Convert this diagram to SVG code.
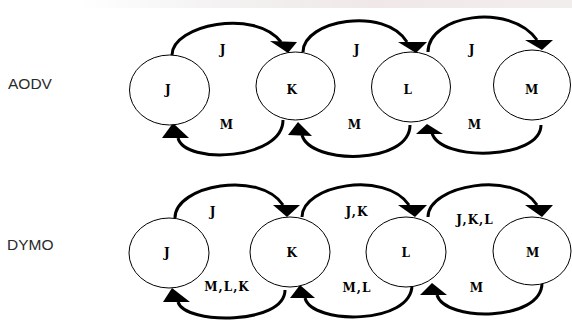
<svg xmlns="http://www.w3.org/2000/svg" width="572" height="321" viewBox="0 0 572 321">
<defs>
<linearGradient id="wm" x1="0" y1="0" x2="1" y2="0">
<stop offset="0" stop-color="#ffffff"/>
<stop offset="0.3" stop-color="#f3f1f1"/>
<stop offset="0.6" stop-color="#f0e8e8"/>
<stop offset="1" stop-color="#f2eded"/>
</linearGradient>
</defs>
<style>
.node ellipse{fill:#fff;stroke:#000;stroke-width:1}
.nl{font-family:"DejaVu Serif",serif;font-weight:bold;font-size:12px;text-anchor:middle;fill:#000;letter-spacing:0.5px}
.el{font-family:"DejaVu Serif",serif;font-weight:bold;font-size:12px;text-anchor:middle;fill:#000;letter-spacing:1px}
.row{font-family:"Liberation Sans",Arial,sans-serif;font-size:15.5px;fill:#2a2a2a}
.arc{fill:none;stroke:#000;stroke-width:3}
.head{fill:#000}
</style>
<rect x="0" y="0" width="572" height="321" fill="#fff"/>
<rect x="80" y="0" width="492" height="8" fill="url(#wm)"/>
<text class="row" x="8" y="89">AODV</text>
<text class="row" x="7" y="250">DYMO</text>
<g id="connectors">
<path class="arc" d="M172,55 C172,25 255,8 281,42"/>
<polygon class="head" points="270,41 297,42 288,53"/>
<path class="arc" d="M303,52 C303,20 385,6 407,42"/>
<polygon class="head" points="398,42 427,42 416,53"/>
<path class="arc" d="M428,52 C428,15 510,2 537,40"/>
<polygon class="head" points="525,40 553,40 542,50"/>
<path class="arc" d="M283,120 C283,160 185,165 178,138"/>
<polygon class="head" points="173,123 162,138 189,138"/>
<path class="arc" d="M410,125 C410,165 310,165 302,135"/>
<polygon class="head" points="298,122 288,135 312,136"/>
<path class="arc" d="M541,125 C541,160 440,162 432,133"/>
<polygon class="head" points="427,124 416,134 443,134"/>
<path class="arc" d="M175,218 C175,185 260,170 283,205"/>
<polygon class="head" points="273,205 300,205 287,217"/>
<path class="arc" d="M302,217 C302,185 385,170 409,205"/>
<polygon class="head" points="398,205 427,205 415,217"/>
<path class="arc" d="M428,217 C428,185 515,170 537,205"/>
<polygon class="head" points="525,205 553,205 542,217"/>
<path class="arc" d="M285,290 C285,325 185,325 178,302"/>
<polygon class="head" points="172,288 163,302 190,302"/>
<path class="arc" d="M412,285 C412,325 312,325 305,298"/>
<polygon class="head" points="300,285 290,298 315,298"/>
<path class="arc" d="M542,283 C542,322 445,322 437,295"/>
<polygon class="head" points="432,283 420,295 447,295"/>
<text class="el" x="223" y="54">J</text>
<text class="el" x="357" y="54">J</text>
<text class="el" x="472" y="54">J</text>
<text class="el" x="227" y="129">M</text>
<text class="el" x="355" y="129">M</text>
<text class="el" x="475" y="129">M</text>
<text class="el" x="213" y="216">J</text>
<text class="el" x="357" y="216">J,K</text>
<text class="el" x="475" y="224">J,K,L</text>
<text class="el" x="227" y="291">M,L,K</text>
<text class="el" x="357" y="292">M,L</text>
<text class="el" x="477" y="292">M</text>
</g>
<g id="aodv-J" class="node"><ellipse cx="169.5" cy="90" rx="40" ry="35"/><text class="nl" x="168" y="94">J</text></g>
<g id="aodv-K" class="node"><ellipse cx="295.5" cy="86" rx="39.5" ry="34"/><text class="nl" x="292" y="94">K</text></g>
<g id="aodv-L" class="node"><ellipse cx="411" cy="87" rx="39.5" ry="35"/><text class="nl" x="408" y="94">L</text></g>
<g id="aodv-M" class="node"><ellipse cx="532" cy="85" rx="38.5" ry="35"/><text class="nl" x="532" y="94">M</text></g>
<g id="dymo-J" class="node"><ellipse cx="169" cy="253" rx="40" ry="35"/><text class="nl" x="167" y="257">J</text></g>
<g id="dymo-K" class="node"><ellipse cx="290" cy="252" rx="40" ry="35"/><text class="nl" x="292" y="257">K</text></g>
<g id="dymo-L" class="node"><ellipse cx="406" cy="252" rx="40" ry="35"/><text class="nl" x="406" y="257">L</text></g>
<g id="dymo-M" class="node"><ellipse cx="532" cy="251" rx="39" ry="34"/><text class="nl" x="533" y="257">M</text></g>
</svg>
